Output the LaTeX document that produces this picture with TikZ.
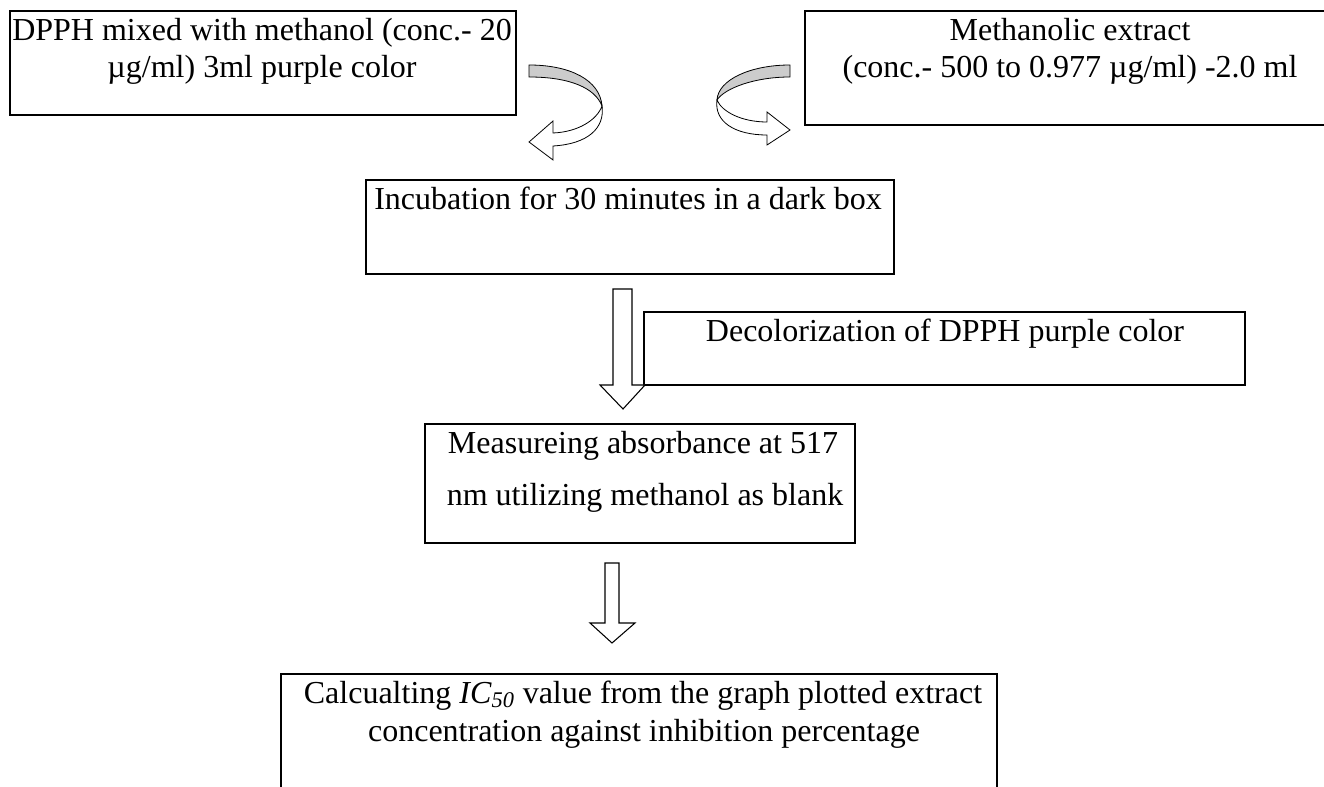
\documentclass[tikz,border=0pt]{standalone}
\usepackage{fontspec}
\setmainfont{Liberation Serif}
\usetikzlibrary{fit}

\tikzset{
stage/.style={draw, line width=1.3pt, inner sep=0pt},
words/.style={anchor=base, inner sep=0pt, font=\fontsize{24}{28}\selectfont},
hollow/.style={draw, line width=0.8pt, fill=white, line join=miter},
ribbon/.style={draw, line width=0.6pt, fill=gray!40},
}

\begin{document}
\begin{tikzpicture}[x=0.75pt, y=-0.75pt]
\useasboundingbox (0,0) rectangle (1324,787);

\node (dpph) [stage, fit={(10,11) (516,115)}] {};
\node (extract) [stage, fit={(805,11) (1336,125)}] {};
\node (incub) [stage, fit={(366,180) (894,274)}] {};
\node (decol) [stage, fit={(644,312) (1245,385)}] {};
\node (absorb) [stage, fit={(425,424) (855,543)}] {};
\node (ic) [stage, fit={(281,674) (997,800)}] {};

\node (dpph1) [words] at (262,41) {DPPH mixed with methanol (conc.- 20};
\node (dpph2) [words] at (262,78) {µg/ml) 3ml purple color};
\node (extract1) [words] at (1070,41) {Methanolic extract};
\node (extract2) [words] at (1070,78) {(conc.- 500 to 0.977 µg/ml) -2.0 ml};
\node (incub1) [words] at (628,210) {Incubation for 30 minutes in a dark box};
\node (decol1) [words] at (945,342) {Decolorization of DPPH purple color};
\node (absorb1) [words] at (643,454) {Measureing absorbance at 517};
\node (absorb2) [words] at (645,506) {nm utilizing methanol as blank};
\node (ic1) [words] at (643,703) {Calcualting \textit{IC}\textsubscript{\textit{50}} value from the graph plotted extract};
\node (ic2) [words] at (644,741) {concentration against inhibition percentage};

% curved arrows into the incubation step
\draw [ribbon] (529,65) .. controls (570,65) and (600,80) .. (602,106)
.. controls (595,88) and (570,77) .. (529,77) -- cycle;
\draw [hollow, line width=0.6pt] (602,106) .. controls (597,120) and (578,132) .. (553,133)
-- (553,121) -- (529,142) -- (553,160) -- (553,146)
.. controls (588,144) and (605,128) .. (602,106) -- cycle;
\draw [ribbon] (790,65) .. controls (750,65) and (718,80) .. (717,100)
.. controls (725,88) and (755,77) .. (790,77) -- cycle;
\draw [hollow, line width=0.6pt] (717,100) .. controls (722,112) and (742,122) .. (767,122)
-- (767,112) -- (790,130) -- (767,145) -- (767,135)
.. controls (735,135) and (714,122) .. (717,100) -- cycle;

% block arrows down the chain
\draw [hollow] (613,289) -- (632,289) -- (632,385) -- (645,385) -- (623,409)
-- (600,385) -- (613,385) -- cycle;
\draw [hollow] (605,563) -- (619,563) -- (619,623) -- (635,623) -- (612,643)
-- (590,623) -- (605,623) -- cycle;
\end{tikzpicture}
\end{document}
